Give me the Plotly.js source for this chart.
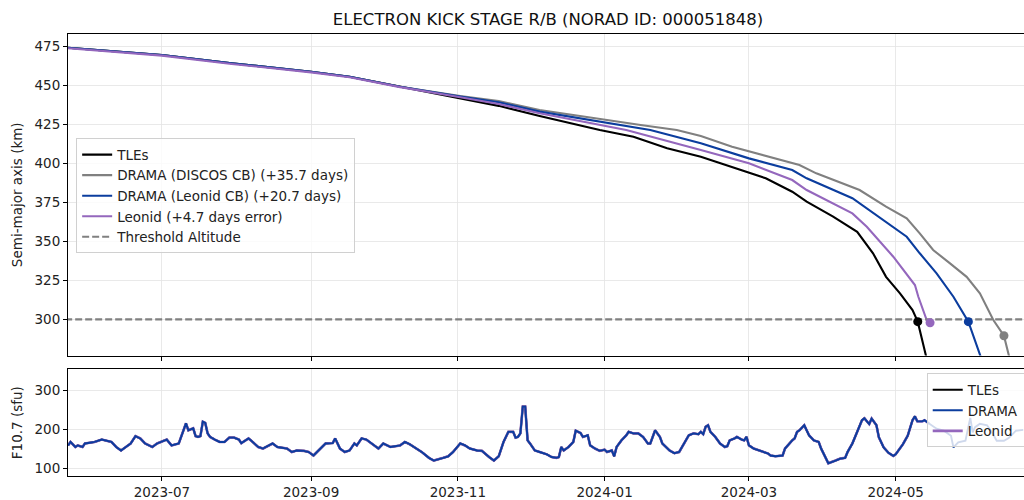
<!DOCTYPE html>
<html>
<head>
<meta charset="utf-8">
<script src="https://cdn.plot.ly/plotly-3.0.1.min.js"></script>
<style>
html,body{margin:0;padding:0;overflow:hidden;background:#fff;width:1024px;height:500px;}
#chart{width:1032px;height:500px;}
</style>
</head>
<body>
<div id="chart"></div>
<script>
// ---- Semi-major axis (km) ----
const tleDates = ['2023-05-23','2023-07-01','2023-07-30','2023-09-01','2023-09-17','2023-10-08',
  '2023-11-02','2023-11-10','2023-11-18','2023-12-05','2023-12-30','2024-01-13','2024-01-27','2024-02-10',
  '2024-02-23','2024-03-08','2024-03-19','2024-03-25','2024-04-05','2024-04-15','2024-04-21 14:00',
  '2024-04-27','2024-05-02 19:00','2024-05-08','2024-05-10 04:00','2024-05-14'];
const tleSma = [474.3,469.6,464.3,458.9,455.7,449.3,
  442.0,439.5,437.0,430.5,421.5,417.2,409.8,404.4,
  397.9,390.5,381.9,375.5,365.9,356.2,342.4,
  327.3,316.7,306.0,298.5,274.0];

const discosDates = ['2023-05-23','2023-07-01','2023-07-30','2023-09-01','2023-09-17','2023-10-08',
  '2023-11-02','2023-11-18','2023-12-05','2023-12-30','2024-01-16','2024-01-31','2024-02-10','2024-02-23',
  '2024-03-22','2024-03-29','2024-04-16','2024-04-27','2024-05-05 14:00','2024-05-11','2024-05-16 14:00',
  '2024-05-23 14:00','2024-05-30 12:00','2024-06-05','2024-06-10 14:00','2024-06-15','2024-06-17 12:00'];
const discosSma = [474.3,469.6,464.3,458.9,455.7,449.3,
  443.3,440.1,434.3,428.4,424.7,421.5,417.6,410.8,
  399.0,393.7,383.0,372.3,364.8,355.2,344.5,
  335.9,327.3,316.7,299.6,289.5,274.0];

const leonidCbDates = ['2023-05-23','2023-07-01','2023-07-30','2023-09-01','2023-09-17','2023-10-08',
  '2023-11-02','2023-11-18','2023-12-05','2023-12-30','2024-01-16','2024-01-20','2024-02-10','2024-03-01',
  '2024-03-19','2024-03-25','2024-04-13','2024-04-25 19:00','2024-05-05 14:00','2024-05-11','2024-05-18',
  '2024-05-25','2024-05-31 05:00','2024-06-05 19:00'];
const leonidCbSma = [474.3,469.6,464.3,458.9,455.7,449.3,
  443.0,439.3,433.3,426.8,422.6,421.5,413.0,403.3,
  395.8,390.5,377.7,363.7,353.0,342.4,329.5,
  314.5,298.5,274.0];

const leonidDates = ['2023-05-23','2023-07-01','2023-07-30','2023-09-01','2023-09-17','2023-10-08',
  '2023-11-02','2023-11-18','2023-12-05','2023-12-30','2024-01-10','2024-02-10','2024-03-01',
  '2024-03-19','2024-03-25','2024-04-13','2024-04-19','2024-04-30','2024-05-09','2024-05-10 10:00',
  '2024-05-14','2024-05-15 07:00'];
const leonidSma = [474.0,469.2,463.9,458.5,455.3,449.0,
  442.5,438.2,432.2,424.7,421.5,408.7,400.1,
  389.4,383.0,368.0,359.4,340.2,322.0,314.5,
  299.0,297.8];

// end-of-life markers (TLE, DISCOS CB, Leonid CB, Leonid)
const markerDates = ['2024-05-10 04:00','2024-06-15','2024-05-31 05:00','2024-05-15 07:00'];
const markerSma = [298.5,289.5,298.5,297.8];
const markerColors = ['#000000','#808080','#0b3d9e','#9467bd'];

const thresholdDates = ['2023-05-01','2024-07-15'];
const thresholdSma = [300,300];

// ---- F10.7 (sfu) ----
const f107Dates = ['2023-05-23','2023-05-24','2023-05-26','2023-05-27','2023-05-29','2023-05-30','2023-06-01','2023-06-03',
 '2023-06-06','2023-06-08','2023-06-10','2023-06-12','2023-06-14','2023-06-16','2023-06-18','2023-06-20','2023-06-22',
 '2023-06-24','2023-06-27','2023-06-29','2023-07-01','2023-07-03','2023-07-05','2023-07-08','2023-07-11','2023-07-12',
 '2023-07-14','2023-07-15','2023-07-16','2023-07-17','2023-07-18','2023-07-19','2023-07-20','2023-07-21','2023-07-23',
 '2023-07-25','2023-07-27','2023-07-29','2023-07-31','2023-08-02','2023-08-03','2023-08-06','2023-08-07','2023-08-09',
 '2023-08-10','2023-08-12','2023-08-16','2023-08-18','2023-08-20','2023-08-22','2023-08-24','2023-08-26','2023-08-29',
 '2023-08-31','2023-09-02','2023-09-04','2023-09-07','2023-09-10','2023-09-11','2023-09-13','2023-09-15','2023-09-17',
 '2023-09-19','2023-09-20','2023-09-22','2023-09-24','2023-09-26','2023-09-29','2023-10-01','2023-10-04','2023-10-08',
 '2023-10-10','2023-10-12','2023-10-15','2023-10-17','2023-10-20','2023-10-22','2023-10-26','2023-10-28','2023-10-30',
 '2023-11-02','2023-11-04','2023-11-06','2023-11-09','2023-11-11','2023-11-14','2023-11-16','2023-11-18','2023-11-20',
 '2023-11-22','2023-11-24','2023-11-25','2023-11-26','2023-11-27','2023-11-28','2023-11-29','2023-11-30','2023-12-01',
 '2023-12-03','2023-12-05','2023-12-08','2023-12-10','2023-12-12','2023-12-13','2023-12-14','2023-12-15','2023-12-17',
 '2023-12-19','2023-12-20','2023-12-22','2023-12-23','2023-12-25','2023-12-26','2023-12-28','2023-12-30','2024-01-01',
 '2024-01-02','2024-01-04','2024-01-05','2024-01-06','2024-01-08','2024-01-10','2024-01-11','2024-01-13','2024-01-15',
 '2024-01-17','2024-01-19','2024-01-20','2024-01-22','2024-01-24','2024-01-25','2024-01-28','2024-01-30','2024-02-01',
 '2024-02-03','2024-02-05','2024-02-07','2024-02-09','2024-02-10','2024-02-11','2024-02-12','2024-02-13','2024-02-14',
 '2024-02-16','2024-02-18','2024-02-20','2024-02-21','2024-02-22','2024-02-24','2024-02-25','2024-02-27','2024-02-28',
 '2024-02-29','2024-03-01','2024-03-03','2024-03-06','2024-03-09','2024-03-10','2024-03-12','2024-03-15','2024-03-16',
 '2024-03-19','2024-03-20','2024-03-21','2024-03-22','2024-03-24','2024-03-25','2024-03-26','2024-03-28','2024-03-30',
 '2024-03-31','2024-04-02','2024-04-03','2024-04-06','2024-04-08','2024-04-10','2024-04-11','2024-04-13','2024-04-15',
 '2024-04-17','2024-04-18','2024-04-20','2024-04-21','2024-04-23','2024-04-24','2024-04-26','2024-04-28','2024-04-30',
 '2024-05-01','2024-05-04','2024-05-06','2024-05-08','2024-05-09','2024-05-10','2024-05-12','2024-05-13','2024-05-15',
 '2024-05-18','2024-05-21','2024-05-24','2024-05-25','2024-05-27','2024-05-30','2024-06-01','2024-06-02','2024-06-03',
 '2024-06-05','2024-06-08','2024-06-10','2024-06-12','2024-06-15','2024-06-17','2024-06-20','2024-06-23'];
const f107Values = [159,168,155,159,155,164,166,168,
 174,171,168,155,146,155,164,183,177,
 164,155,164,168,174,159,164,216,198,
 203,183,181,183,220,217,190,181,174,
 168,168,179,179,174,165,177,172,159,
 155,151,164,155,152,151,142,146,145,
 142,133,145,164,165,177,151,142,146,
 164,159,177,174,164,151,164,155,159,
 168,162,151,142,127,120,127,131,142,
 164,159,151,146,145,129,120,131,168,
 194,194,179,181,190,259,259,172,164,
 146,142,136,129,127,129,155,146,155,
 168,197,191,181,185,159,151,145,148,
 142,146,131,155,172,185,194,190,190,
 181,164,164,198,181,164,146,139,142,
 164,185,190,188,194,188,207,211,194,
 181,164,155,157,172,177,181,174,172,
 181,159,151,145,138,133,131,133,151,
 172,177,194,198,211,198,185,172,168,
 151,125,113,120,125,127,142,164,194,
 224,229,214,228,211,180,154,140,132,
 136,162,184,224,234,221,221,224,215,
 202,197,184,154,167,171,230,193,206,
 215,211,193,171,171,178,197,199];
const tleF107End = '2024-05-10';
const leonidF107End = '2024-05-15';

const tleN = f107Dates.indexOf(tleF107End) + 1;
const leoN = f107Dates.indexOf(leonidF107End) + 1;

const BLUE = '#0b3d9e', PURPLE = '#9467bd', GRAY = '#808080';
const FONT = 'DejaVu Sans, sans-serif';
const LW = 2.1;

const traces = [
  {x: tleDates, y: tleSma, mode: 'lines', name: 'TLEs', line: {color: '#000', width: LW}, xaxis: 'x', yaxis: 'y'},
  {x: discosDates, y: discosSma, mode: 'lines', name: 'DRAMA (DISCOS CB) (+35.7 days)', line: {color: GRAY, width: LW}, xaxis: 'x', yaxis: 'y'},
  {x: leonidCbDates, y: leonidCbSma, mode: 'lines', name: 'DRAMA (Leonid CB) (+20.7 days)', line: {color: BLUE, width: LW}, xaxis: 'x', yaxis: 'y'},
  {x: leonidDates, y: leonidSma, mode: 'lines', name: 'Leonid (+4.7 days error)', line: {color: PURPLE, width: LW}, xaxis: 'x', yaxis: 'y'},
  {x: thresholdDates, y: thresholdSma, mode: 'lines', name: 'Threshold Altitude', line: {color: GRAY, width: LW, dash: '7px,3px'}, xaxis: 'x', yaxis: 'y'},
  {x: markerDates, y: markerSma, mode: 'markers', showlegend: false, marker: {color: markerColors, size: 9}, xaxis: 'x', yaxis: 'y', cliponaxis: false},
  {x: f107Dates.slice(0, tleN), y: f107Values.slice(0, tleN), mode: 'lines', name: 'TLEs', legend: 'legend2', legendrank: 1,
   line: {color: '#000', width: LW}, xaxis: 'x2', yaxis: 'y2'},
  {x: f107Dates.slice(0, leoN), y: f107Values.slice(0, leoN), mode: 'lines', name: 'Leonid', legend: 'legend2', legendrank: 3,
   line: {color: PURPLE, width: 2.6}, xaxis: 'x2', yaxis: 'y2'},
  {x: f107Dates, y: f107Values, mode: 'lines', name: 'DRAMA', legend: 'legend2', legendrank: 2,
   line: {color: BLUE, width: 1.9}, xaxis: 'x2', yaxis: 'y2'}
];

const xRange = ['2023-05-22 23:00', '2024-06-25'];
const tickVals = ['2023-07-01','2023-09-01','2023-11-01','2024-01-01','2024-03-01','2024-05-01'];
const tickText = ['2023-07','2023-09','2023-11','2024-01','2024-03','2024-05'];
const axisCommon = {
  showline: true, linecolor: '#000', linewidth: 1, mirror: true,
  ticks: 'outside', ticklen: 4, tickcolor: '#000', tickwidth: 1,
  showgrid: true, gridcolor: '#e4e4e4', gridwidth: 0.8, zeroline: false,
  tickfont: {family: FONT, size: 13.5, color: '#222'}
};

const layout = {
  width: 1032, height: 500,
  margin: {l: 68, r: 4, t: 34, b: 24},
  paper_bgcolor: '#fff', plot_bgcolor: '#fff',
  font: {family: FONT, color: '#222'},
  title: {text: 'ELECTRON KICK STAGE R/B (NORAD ID: 000051848)', x: 0.5, xref: 'paper', xanchor: 'center',
          y: 0.962, yref: 'container', yanchor: 'middle', font: {family: FONT, size: 16.5, color: '#111'}},
  xaxis: Object.assign({}, axisCommon, {domain: [0, 1], anchor: 'y', type: 'date', range: xRange,
          tickmode: 'array', tickvals: tickVals, ticktext: tickText, showticklabels: false}),
  yaxis: Object.assign({}, axisCommon, {domain: [0.2726, 1], anchor: 'x', range: [276.8, 483.1],
          tickmode: 'array', tickvals: [300,325,350,375,400,425,450,475],
          title: {text: 'Semi-major axis (km)', standoff: 8, font: {family: FONT, size: 13.5, color: '#222'}}}),
  xaxis2: Object.assign({}, axisCommon, {domain: [0, 1], anchor: 'y2', type: 'date', range: xRange,
          tickmode: 'array', tickvals: tickVals, ticktext: tickText}),
  yaxis2: Object.assign({}, axisCommon, {domain: [0, 0.2414], anchor: 'x2', range: [80.2, 355.2],
          tickmode: 'array', tickvals: [100,200,300],
          title: {text: 'F10.7 (sfu)', standoff: 8, font: {family: FONT, size: 13.5, color: '#222'}}}),
  legend: {x: 0.0085, y: 0.764, xanchor: 'left', yanchor: 'top', xref: 'paper', yref: 'paper',
           bgcolor: 'rgba(255,255,255,0.8)', bordercolor: '#d0d0d0', borderwidth: 1,
           font: {family: FONT, size: 13.5, color: '#222'}, tracegroupgap: 0},
  legend2: {x: 0.8945, y: 0.232, xanchor: 'left', yanchor: 'top', xref: 'paper', yref: 'paper',
           bgcolor: 'rgba(255,255,255,0.8)', bordercolor: '#d0d0d0', borderwidth: 1,
           font: {family: FONT, size: 13.5, color: '#222'}, tracegroupgap: 0},
  showlegend: true
};

Plotly.newPlot('chart', traces, layout, {displayModeBar: false, staticPlot: true});
</script>
</body>
</html>
